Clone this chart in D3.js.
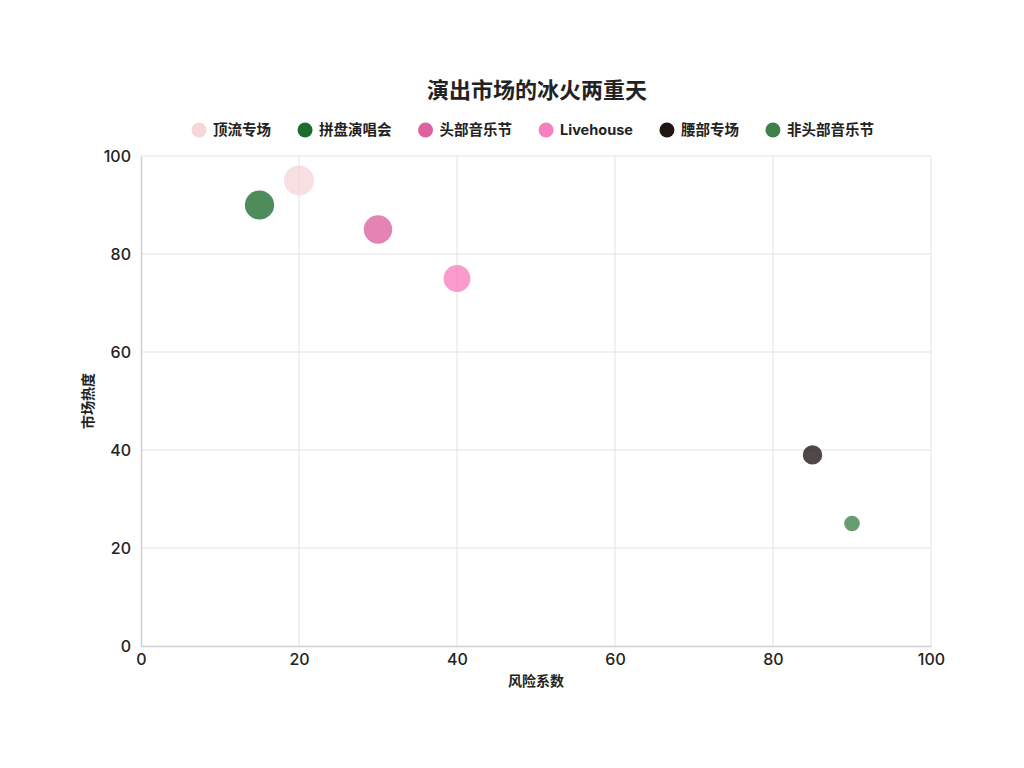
<!DOCTYPE html>
<html>
<head>
<meta charset="utf-8">
<script src="https://cdn.jsdelivr.net/npm/d3@7"></script>
<style>
  body { margin: 0; background: #fff; }
  svg text { font-family: "Inter", "Noto Sans CJK SC", sans-serif; }
  .grid line { stroke: #e3e3e3; stroke-width: 1; }
  .axis path, .axis line { stroke: #cfcfcf; }
  .axis text { fill: #222; font-size: 16px; }
</style>
</head>
<body>
<script>
(function () {

    //chart data
    var categories = ["顶流专场", "拼盘演唱会", "头部音乐节", "Livehouse", "腰部专场", "非头部音乐节"];
    var colors = ["#f6d6d8", "#1e6b2e", "#df60a0", "#f77fbe", "#1f1512", "#3d8049"];
    var riskValues = [20, 15, 30, 40, 85, 90];   //风险系数 (x)
    var heatValues = [95, 90, 85, 75, 39, 25];   //市场热度 (y)
    var sizeValues = [100, 95, 90, 80, 42, 27];  //bubble size
    var xTicks = [0, 20, 40, 60, 80, 100];
    var yTicks = [0, 20, 40, 60, 80, 100];

    var width = 1024, height = 768;
    var margin = {top: 156, right: 93, bottom: 122, left: 141};
    var innerW = width - margin.left - margin.right,
        innerH = height - margin.top - margin.bottom;

    var svg = d3.select("body").append("svg")
        .attr("width", width)
        .attr("height", height);

    var x = d3.scaleLinear().domain([0, 100]).range([0, innerW]);
    var y = d3.scaleLinear().domain([0, 100]).range([innerH, 0]);
    var r = d3.scaleSqrt().domain([0, 100]).range([0, 15]);

    var g = svg.append("g").attr("transform", "translate(" + margin.left + "," + margin.top + ")");

    //gridlines
    var grid = g.append("g").attr("class", "grid");
    grid.selectAll(".gx").data(xTicks.slice(1)).enter().append("line")
        .attr("x1", function (d) { return x(d); })
        .attr("x2", function (d) { return x(d); })
        .attr("y1", 0).attr("y2", innerH);
    grid.selectAll(".gy").data(yTicks.slice(1)).enter().append("line")
        .attr("y1", function (d) { return y(d); })
        .attr("y2", function (d) { return y(d); })
        .attr("x1", 0).attr("x2", innerW);

    //axes
    g.append("g").attr("class", "axis")
        .attr("transform", "translate(0," + innerH + ")")
        .call(d3.axisBottom(x).tickValues(xTicks).tickSize(0).tickPadding(7.5));
    g.append("g").attr("class", "axis")
        .call(d3.axisLeft(y).tickValues(yTicks).tickSize(0).tickPadding(10));
    g.selectAll(".axis").attr("font-family", null);
    g.selectAll(".axis path").attr("stroke-width", 1.5);
    g.selectAll(".axis text").attr("font-weight", 500);

    //bubbles
    g.selectAll(".bubble")
        .data(categories)
        .enter()
        .append("circle")
        .attr("class", "bubble")
        .attr("cx", function (d, i) { return x(riskValues[i]); })
        .attr("cy", function (d, i) { return y(heatValues[i]); })
        .attr("r", function (d, i) { return r(sizeValues[i]); })
        .attr("fill", function (d, i) { return colors[i]; })
        .attr("fill-opacity", 0.78);

    //title
    svg.append("text")
        .attr("x", 537).attr("y", 98)
        .attr("text-anchor", "middle")
        .attr("font-size", 22).attr("font-weight", "bold")
        .attr("fill", "#222")
        .text("演出市场的冰火两重天");

    //axis titles
    svg.append("text")
        .attr("x", margin.left + innerW / 2).attr("y", 686)
        .attr("text-anchor", "middle")
        .attr("font-size", 14).attr("font-weight", "bold")
        .attr("fill", "#222")
        .text("风险系数");
    svg.append("text")
        .attr("transform", "translate(93," + (margin.top + innerH / 2) + ") rotate(-90)")
        .attr("text-anchor", "middle")
        .attr("font-size", 14).attr("font-weight", "bold")
        .attr("fill", "#222")
        .text("市场热度");

    //legend
    var legend = svg.append("g");
    var items = legend.selectAll(".item").data(categories).enter().append("g");
    items.append("circle").attr("r", 7.5).attr("cx", 0).attr("cy", 0)
        .attr("fill", function (d, i) { return colors[i]; });
    items.append("text").attr("x", 14).attr("y", 5)
        .attr("font-size", 14.5).attr("font-weight", "bold").attr("fill", "#222")
        .text(function (d) { return d; });
    var pos = 0;
    items.each(function () {
        var w = d3.select(this).select("text").node().getComputedTextLength();
        d3.select(this).attr("transform", "translate(" + pos + ",0)");
        pos += 14 + w + 34;
    });
    var totalW = pos - 34 + 7;
    legend.attr("transform", "translate(" + (533 - totalW / 2 + 7) + ",130)");

})();
</script>
</body>
</html>
